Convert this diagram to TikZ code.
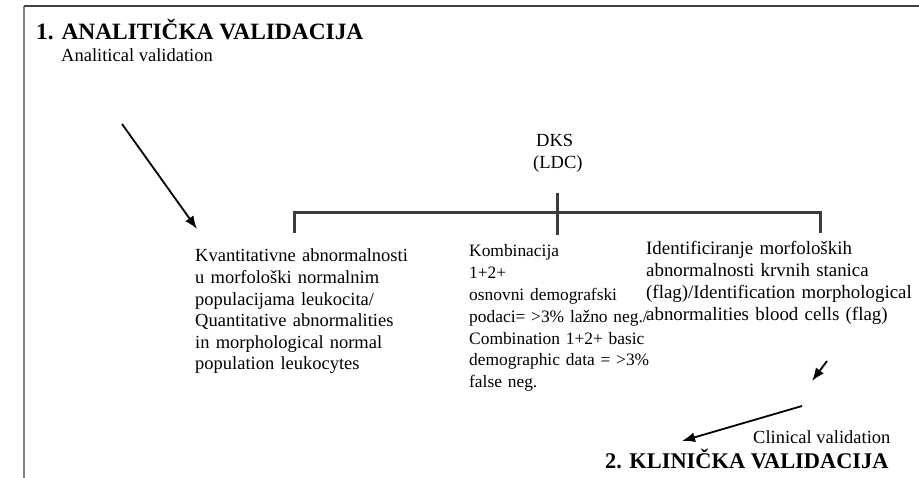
\documentclass[tikz,border=0pt]{standalone}
\usepackage{fontspec}
\setmainfont{Liberation Serif}
\usetikzlibrary{arrows.meta}
\definecolor{bracketgray}{HTML}{3C3C3C}
\definecolor{framegray}{HTML}{808080}
\definecolor{framedark}{HTML}{404040}
\begin{document}
\begin{tikzpicture}[x=1pt,y=-1pt,
  titletext/.style={anchor=base west,inner sep=0pt,font=\fontsize{#1}{27}\selectfont\bfseries},
  bodytext/.style={anchor=base west,inner sep=0pt,font=\fontsize{18.5}{21.8}\selectfont},
  coltext/.style={anchor=base west,inner sep=0pt,align=left,text width=#1},
  bracketline/.style={draw=bracketgray,line width=3pt,line join=miter,line cap=butt},
  arrowline/.style={-{Latex[length=13pt,width=10pt]},line width=1.8pt,draw=black}
]
\useasboundingbox (0,0) rectangle (919,478);
% frame
\coordinate (ftl) at (24,6);
\coordinate (ftr) at (919,6);
\coordinate (fbl) at (24,478);
\draw[draw=framegray,line width=2.3pt] (fbl) -- (ftl);
\draw[draw=framedark,line width=1.3pt] (ftl) -- (ftr);
% titles
\node[titletext=23.4] (t1) at (36,40) {1. ANALITIČKA VALIDACIJA};
\node[bodytext] (t1en) at (61,61.5) {Analitical validation};
\node[coltext=80pt,font=\fontsize{18.5}{21.8}\selectfont] (dks) at (533,147) {\hspace*{3pt}DKS\\(LDC)};
\node[titletext=22.4] (t2) at (605,468) {2. KLINIČKA VALIDACIJA};
\node[bodytext] (t2en) at (753,443) {Clinical validation};
% columns
\node[coltext=260pt,font=\fontsize{18.5}{21.6}\selectfont] (c1) at (195,262) {Kvantitativne abnormalnosti\\u morfološki normalnim\\populacijama leukocita/\\Quantitative abnormalities\\in morphological normal\\population leukocytes};
\node[coltext=200pt,font=\fontsize{17.4}{21.8}\selectfont] (c2) at (469,257) {Kombinacija\\1+2+\\osnovni demografski\\podaci= >3\% lažno neg./\\Combination 1+2+ basic\\demographic data = >3\%\\false neg.};
\node[coltext=300pt,font=\fontsize{18.9}{21.8}\selectfont] (c3) at (646,255) {Identificiranje morfoloških\\abnormalnosti krvnih stanica\\(flag)/Identification morphological\\abnormalities blood cells (flag)};
% bracket
\coordinate (bl) at (294,233);
\coordinate (br) at (820,233);
\coordinate (brt) at (820,213);
\coordinate (mt) at (557,193);
\coordinate (mb) at (557,235);
\draw[bracketline] (bl) |- (brt) -- (br);
\draw[bracketline] (mt) -- (mb);
% arrows
\coordinate (a1s) at (122,124);
\coordinate (a1e) at (197,229);
\draw[arrowline] (a1s) -- (a1e);
\coordinate (a2s) at (827,361);
\coordinate (a2e) at (812,381);
\draw[arrowline] (a2s) -- (a2e);
\coordinate (a3s) at (802,406);
\coordinate (a3e) at (682,441);
\draw[arrowline] (a3s) -- (a3e);
\end{tikzpicture}
\end{document}
